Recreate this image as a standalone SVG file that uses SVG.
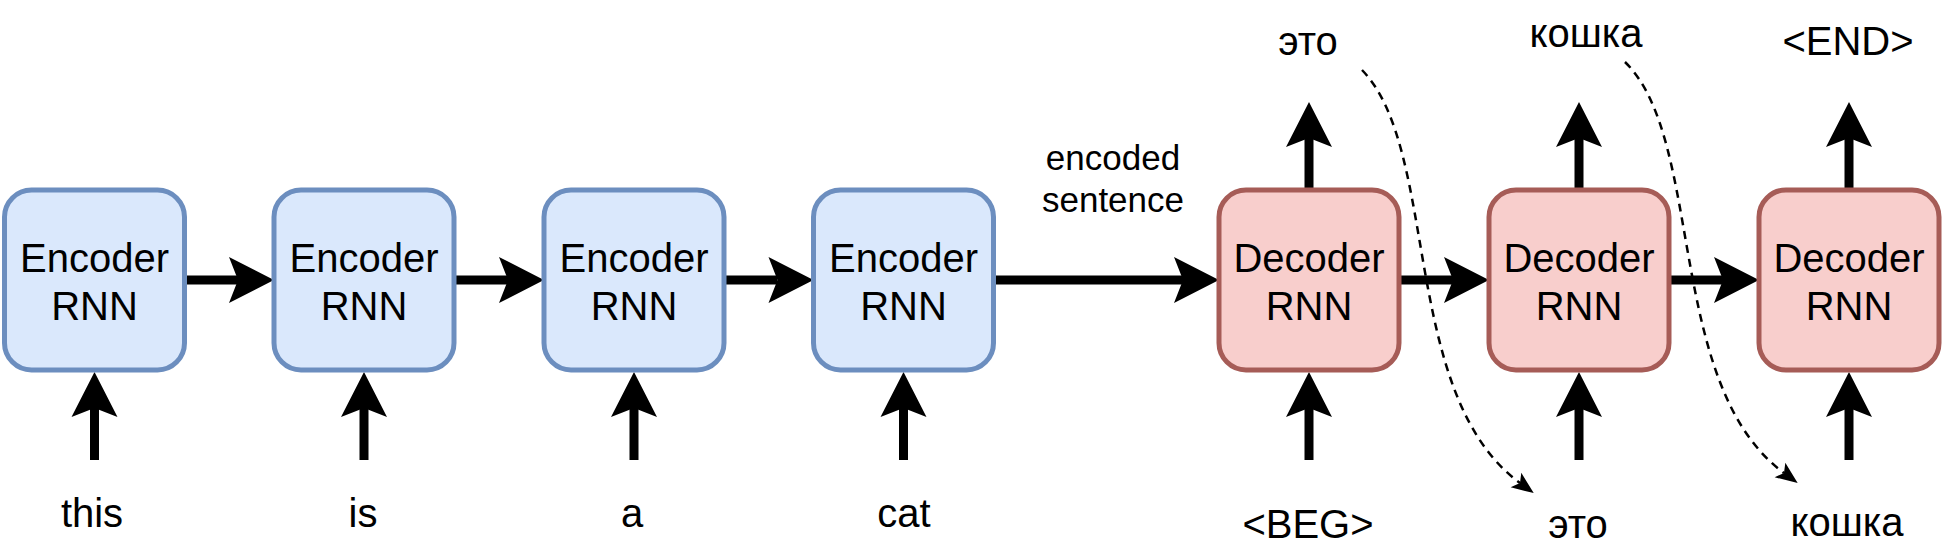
<svg xmlns="http://www.w3.org/2000/svg" width="1944" height="555" viewBox="0 0 1944 555">
  <style>
    .enc { fill: #dae8fc; stroke: #6c8ebf; stroke-width: 5; }
    .dec { fill: #f8cecc; stroke: #a65c57; stroke-width: 5; }
    .lbl { font-family: "Liberation Sans", Arial, sans-serif; font-size: 40px; fill: #000; text-anchor: middle; }
    .small { font-size: 35px; }
    .solid { fill: none; stroke: #000; stroke-width: 9; marker-end: url(#bigArrow); }
    .dash { fill: none; stroke: #000; stroke-width: 2.5; stroke-dasharray: 8 6; marker-end: url(#smallArrow); }
  </style>
  <defs>
    <marker id="bigArrow" markerUnits="userSpaceOnUse" viewBox="-46 -24 47 48" markerWidth="47" markerHeight="48" refX="-36" refY="0" orient="auto">
      <path d="M0,0 L-45,-23 L-36,0 L-45,23 Z" fill="#000"/>
    </marker>
    <marker id="smallArrow" markerUnits="userSpaceOnUse" viewBox="-24 -11 25 22" markerWidth="25" markerHeight="22" refX="-17" refY="0" orient="auto">
      <path d="M0,0 L-22,-9 L-17,0 L-22,9 Z" fill="#000"/>
    </marker>
  </defs>

  <g id="connectors">
    <!-- encoder chain -->
    <path class="solid" d="M184.5,280 L238,280"/>
    <path class="solid" d="M454,280 L508,280"/>
    <path class="solid" d="M724,280 L777.5,280"/>
    <path class="solid" d="M993.5,280 L1183,280"/>
    <!-- decoder chain -->
    <path class="solid" d="M1399,280 L1453,280"/>
    <path class="solid" d="M1669,280 L1723,280"/>
    <!-- encoder inputs -->
    <path class="solid" d="M94.5,460 L94.5,408"/>
    <path class="solid" d="M364,460 L364,408"/>
    <path class="solid" d="M634,460 L634,408"/>
    <path class="solid" d="M903.5,460 L903.5,408"/>
    <!-- decoder inputs -->
    <path class="solid" d="M1309,460 L1309,408"/>
    <path class="solid" d="M1579,460 L1579,408"/>
    <path class="solid" d="M1849,460 L1849,408"/>
    <!-- decoder outputs -->
    <path class="solid" d="M1309,190 L1309,138"/>
    <path class="solid" d="M1579,190 L1579,138"/>
    <path class="solid" d="M1849,190 L1849,138"/>
    <!-- feedback dashed -->
    <path class="dash" d="M1362,70 C1440,150 1400,395 1520,483"/>
    <path class="dash" d="M1625,62 C1705,140 1665,385 1784,473"/>
  </g>

  <g id="enc1"><rect class="enc" x="4.5" y="190" width="180" height="180" rx="27"/><text class="lbl" x="94.5" y="272">Encoder</text><text class="lbl" x="94.5" y="320">RNN</text></g>
  <g id="enc2"><rect class="enc" x="274" y="190" width="180" height="180" rx="27"/><text class="lbl" x="364" y="272">Encoder</text><text class="lbl" x="364" y="320">RNN</text></g>
  <g id="enc3"><rect class="enc" x="544" y="190" width="180" height="180" rx="27"/><text class="lbl" x="634" y="272">Encoder</text><text class="lbl" x="634" y="320">RNN</text></g>
  <g id="enc4"><rect class="enc" x="813.5" y="190" width="180" height="180" rx="27"/><text class="lbl" x="903.5" y="272">Encoder</text><text class="lbl" x="903.5" y="320">RNN</text></g>

  <g id="dec1"><rect class="dec" x="1219" y="190" width="180" height="180" rx="27"/><text class="lbl" x="1309" y="272">Decoder</text><text class="lbl" x="1309" y="320">RNN</text></g>
  <g id="dec2"><rect class="dec" x="1489" y="190" width="180" height="180" rx="27"/><text class="lbl" x="1579" y="272">Decoder</text><text class="lbl" x="1579" y="320">RNN</text></g>
  <g id="dec3"><rect class="dec" x="1759" y="190" width="180" height="180" rx="27"/><text class="lbl" x="1849" y="272">Decoder</text><text class="lbl" x="1849" y="320">RNN</text></g>

  <g id="labels">
    <text class="lbl" x="92" y="527">this</text>
    <text class="lbl" x="363" y="527">is</text>
    <text class="lbl" x="632" y="527">a</text>
    <text class="lbl" x="904" y="527">cat</text>
    <text class="lbl small" x="1113" y="170">encoded</text>
    <text class="lbl small" x="1113" y="212">sentence</text>
    <text class="lbl" x="1308" y="55">это</text>
    <text class="lbl" x="1586" y="47">кошка</text>
    <text class="lbl" x="1848" y="55">&lt;END&gt;</text>
    <text class="lbl" x="1308" y="538">&lt;BEG&gt;</text>
    <text class="lbl" x="1578" y="538">это</text>
    <text class="lbl" x="1847" y="536">кошка</text>
  </g>
</svg>
